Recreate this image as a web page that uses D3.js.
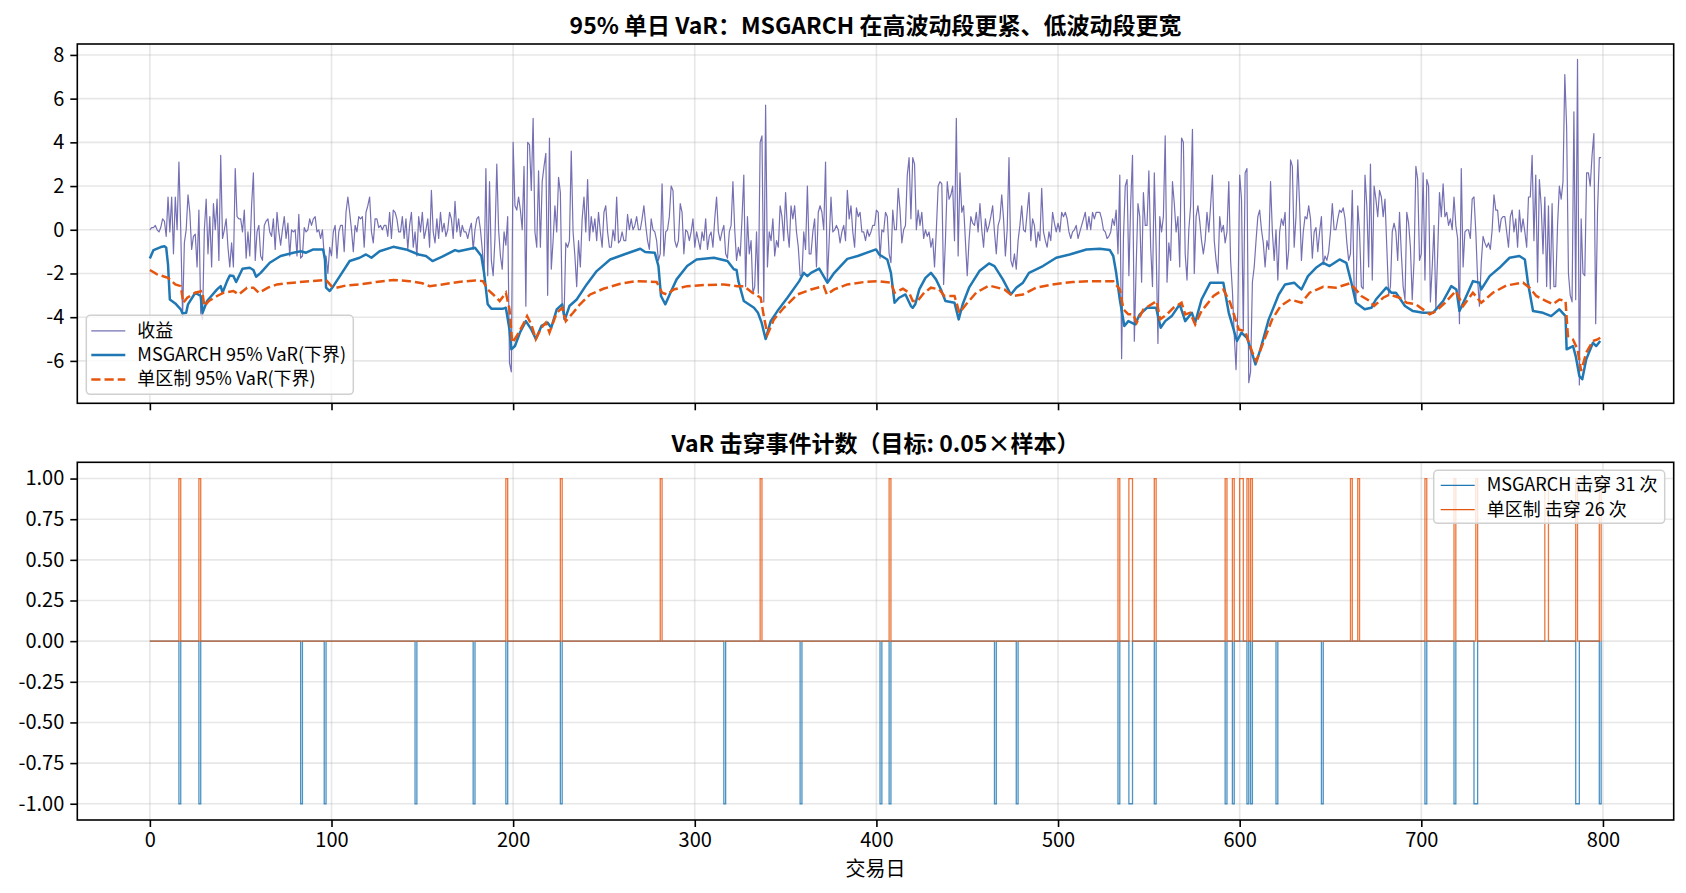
<!DOCTYPE html>
<html>
<head>
<meta charset="utf-8">
<script src="https://cdnjs.cloudflare.com/ajax/libs/d3/7.8.5/d3.min.js"></script>
<style>
body { margin: 0; background: #fff; }
svg text { font-family: "Noto Sans CJK SC", "Noto Sans", sans-serif; fill: #000; }
</style>
</head>
<body>
<div id="chart"></div>
<script>
// daily returns, day 0..799
var returns = [
  0.0,0.1,0.1,0.2,0.0,-0.1,0.1,0.5,0.4,-0.3,
  1.5,-0.1,1.5,-1.1,1.5,0.0,3.1,0.0,-4.0,-0.6,
  0.0,1.6,0.8,-0.9,-0.3,-0.2,-1.7,0.9,-3.8,-4.1,
  0.0,1.4,-1.1,0.6,-1.7,1.2,0.0,1.4,-1.4,3.4,
  -0.4,0.0,0.5,-0.8,-1.7,-0.6,-1.7,2.8,0.6,0.5,
  0.5,-0.1,0.9,-1.3,-0.1,-1.2,1.1,2.6,-1.4,-0.1,
  0.2,-1.2,-1.4,0.2,0.4,0.5,-0.1,-0.3,0.5,-0.9,
  0.8,-0.1,-0.7,0.0,0.6,-0.4,0.3,-1.2,0.0,-0.1,
  0.0,-1.2,0.7,-1.3,-1.2,0.1,-0.1,0.0,0.5,0.2,
  0.5,0.6,-0.1,0.0,-0.4,0.0,-1.2,-1.2,-2.0,-0.8,
  -1.2,-0.1,0.2,-1.3,-0.1,0.2,0.2,-1.0,0.8,1.5,
  0.8,0.0,-1.0,0.2,-0.1,0.6,0.5,0.6,-0.8,0.8,
  1.1,1.5,-0.1,-0.6,0.5,0.5,0.1,0.2,0.0,0.2,
  0.2,-0.3,0.8,-0.4,0.9,0.8,0.5,-0.1,-0.1,0.6,
  -0.4,0.5,-0.9,0.2,0.8,-0.8,-0.1,-1.2,0.6,-0.1,
  0.8,-0.4,0.0,0.5,-0.8,1.8,-0.1,-0.6,0.5,-0.4,
  0.8,-0.1,0.3,-0.3,0.0,0.8,0.5,-0.4,1.3,-0.1,
  0.5,-0.3,0.2,-0.1,-0.1,-0.4,0.0,0.3,-0.9,0.0,
  0.5,0.6,0.0,-0.9,-2.1,2.8,-2.1,2.2,-1.4,-2.1,
  -0.4,3.0,0.0,-1.2,-1.8,-0.1,-0.7,0.6,-6.1,-6.5,
  4.0,1.1,0.9,1.5,0.9,0.0,2.9,-3.5,4.0,3.9,
  1.8,5.1,-0.1,-0.8,2.7,-0.8,2.2,2.9,3.5,-3.0,
  4.2,-1.8,-0.5,1.1,-0.1,2.4,1.7,-3.5,-4.1,-0.6,
  -0.8,-0.5,3.6,-0.1,-1.2,-2.6,-0.5,-1.7,0.5,1.5,
  -0.1,2.3,-0.5,0.6,-0.1,0.5,-0.5,0.8,-0.1,-0.8,
  0.8,1.1,-0.1,-0.8,-0.8,0.0,-0.5,1.5,-0.6,-0.5,
  -0.1,-0.5,-0.5,0.7,0.0,0.5,0.0,0.2,0.6,0.0,
  0.0,0.5,1.1,0.2,-0.5,-0.9,0.5,0.0,-0.1,-0.5,
  -1.4,-1.1,2.1,-1.2,-0.1,0.0,0.6,2.0,1.8,-0.5,
  -0.8,-0.5,1.2,0.8,-1.1,0.0,-0.1,-0.5,-0.1,0.5,
  -0.8,-0.1,-0.5,-0.9,-0.1,-0.5,0.5,-0.9,-0.3,-0.1,
  -0.8,0.5,1.5,-0.1,-0.5,-0.1,0.2,-1.1,-1.3,-0.1,
  0.2,2.2,0.0,-1.4,-0.8,-1.2,0.5,2.5,-2.6,0.6,
  -1.1,-0.5,-2.9,-2.6,-0.1,-2.9,4.0,4.3,-3.3,5.7,
  -1.7,-0.1,-0.5,0.5,-1.2,-0.5,-0.8,1.1,0.6,-0.5,
  1.7,0.0,-0.8,1.1,0.5,1.1,-0.1,-0.8,-2.1,-2.1,
  -0.1,-0.9,2.0,-1.1,-1.1,-0.1,0.5,-1.7,0.8,1.1,
  0.8,0.0,3.1,-2.4,-0.5,1.5,-0.1,0.0,0.2,0.0,
  -0.6,-0.1,0.2,-0.5,1.8,0.5,1.1,-0.1,-0.8,1.0,
  0.6,0.8,-0.1,-0.1,-0.5,0.0,-0.3,-0.1,0.2,0.2,
  0.9,0.8,-1.3,0.0,-0.1,0.8,0.6,-1.1,-1.5,0.9,
  0.0,0.0,1.9,0.9,-0.6,0.0,0.2,2.5,3.3,0.5,
  3.3,3.0,0.0,0.9,0.2,0.8,-0.4,0.0,-0.3,-0.1,
  -0.8,-0.4,-1.7,0.0,2.0,2.2,2.1,-2.5,-0.5,2.2,
  1.4,1.6,2.0,-0.5,5.1,-1.2,2.6,0.8,1.1,-0.5,
  -2.1,-0.5,0.6,0.3,0.2,0.8,-0.1,1.2,0.0,-0.8,
  0.5,-0.1,0.2,0.6,1.1,-0.1,-1.1,0.2,0.5,1.6,
  0.5,-1.2,0.0,3.3,-1.4,-1.7,-1.1,-1.8,-0.5,0.2,
  1.1,0.0,-0.1,0.8,1.7,-0.5,0.5,0.2,-0.8,-0.1,
  -0.5,1.9,-0.1,-0.5,-0.8,-0.1,-0.5,0.8,0.3,-0.1,
  0.3,-0.1,0.8,0.6,0.8,0.5,-0.1,-0.4,-0.1,0.0,
  0.2,-0.4,-0.1,0.2,0.5,0.8,0.0,0.6,0.0,0.8,
  0.5,0.8,0.8,0.8,0.5,0.0,-0.1,-0.4,-0.3,-0.1,
  0.5,0.2,0.9,-1.1,2.5,-5.9,-0.4,2.0,2.3,-2.1,
  1.2,3.4,-5.1,-1.7,1.2,0.6,-2.4,1.7,0.2,0.2,
  2.7,-0.8,-2.6,2.6,-0.8,-5.2,0.6,-0.1,0.6,4.3,
  -2.4,-0.6,-1.4,2.2,1.2,-0.1,0.6,-1.7,4.2,4.0,
  -1.1,-2.3,0.0,1.1,4.6,-2.0,0.6,1.1,0.4,-0.5,
  -1.1,-0.5,0.8,-0.1,1.1,2.5,-0.5,-1.4,-2.0,0.6,
  -0.1,0.2,-0.6,-0.1,2.2,-1.4,-2.8,-4.8,-6.4,-3.6,
  2.5,1.4,-4.6,2.6,2.8,-7.0,-6.5,-2.4,-1.7,-0.5,
  0.6,0.9,0.0,-0.6,-1.7,-0.5,-0.9,2.2,-0.1,-1.4,
  0.0,-2.3,-0.1,0.5,0.2,0.8,-1.8,-0.9,3.2,2.9,
  -0.8,0.6,3.2,1.1,-1.4,-0.1,0.6,0.5,1.1,0.5,
  -1.3,-0.1,0.1,-1.0,-0.1,0.6,-1.6,-1.2,-1.4,-1.0,
  -0.1,1.2,0.0,0.0,0.5,0.9,0.8,1.0,0.5,-0.6,
  -1.4,-1.1,1.8,-2.6,-3.3,1.1,-0.1,-2.6,-2.7,2.5,
  1.1,-1.7,3.0,-2.3,2.0,1.4,0.6,1.8,1.5,0.6,
  1.4,-0.8,-3.0,-2.6,-0.1,0.3,-0.1,-1.4,0.8,-1.1,
  -2.6,-3.2,0.8,0.3,-0.8,-3.2,-1.4,2.9,2.3,-1.4,
  -1.1,2.6,-2.3,2.3,2.0,-3.3,-1.7,0.2,-3.6,-1.1,
  1.7,0.6,2.1,0.6,0.8,0.2,0.5,0.0,1.5,0.2,
  -0.4,-4.3,2.8,-1.7,-0.1,0.0,0.0,-0.4,1.4,1.5,
  -0.1,-2.3,-3.5,-1.5,-0.3,-0.6,-0.8,-0.6,-0.9,0.0,
  1.6,0.9,0.9,-0.1,0.5,0.6,0.6,-0.1,-0.8,0.6,
  0.9,-0.1,0.5,-0.8,0.9,-0.1,0.5,-0.1,-0.8,1.5,
  1.5,3.4,-0.5,2.5,-2.4,2.3,1.1,-1.1,1.5,-2.6,
  1.1,-2.7,1.2,-2.6,-2.6,0.2,2.0,1.4,2.2,7.1,
  4.7,-2.0,-3.0,-3.3,5.4,-3.2,7.8,-7.1,0.5,-2.0,
  -2.1,2.6,2.6,2.0,3.4,4.4,-4.3,0.8,3.3,3.3
];

// MSGARCH 95% VaR, read at these days
var msDays = [0,2,6,8,9,10,11,14,17,18,20,21,25,28,29,31.5,37,39,40,42.5,44,46,47.5,51,55,57,58.5,61,66,72,79,83,86,90,95.4,96.4,97,99,101,104.6,110,115.5,119,122,126.5,134,141,148,152,155.6,161,168,170,179,182.5,184,186,188,194.5,196,198,199,201,203.7,207,210,212.5,215.6,219,221,224,227,228.5,231,235,240.5,246,253.4,261,270,272.7,278,280,281.4,283.8,286.6,290,295.8,301,310.5,318,321.5,323,324,327,332.6,334.8,336.8,339,341.8,345.5,351,357.5,360,362,364,368.5,373,376.8,384,389.7,399.8,401.5,406,408,410,412.5,416,419,420,421.4,423.6,427,430,432.8,435.5,438,443,445.3,447.5,451,456.7,462,465,469.6,474,477,480.7,484,491.7,499,506.4,515.6,523,528.5,530.4,532,534,536.5,538.7,542.4,545,549,554,556.5,559,562.6,567,570,573.7,575.5,579,583.8,591,594,598.5,601,604,607,608.7,611.4,616,621.5,625,630,632,634,637.6,642,646,649.5,655,658.7,661.5,664,668.8,672.5,675,680.7,683.5,686,691,695.4,701,706.4,712,716.5,719.3,721,724.8,728.4,732,733,737.6,743,748.6,754,757,758.7,761.5,767,771.5,776,779.4,780,783.5,785,787,788.6,790.8,794.5,796.3,798.5];
var msVaR = [-1.31,-0.93,-0.79,-0.75,-0.82,-1.6,-3.19,-3.37,-3.64,-3.83,-3.8,-3.41,-2.88,-3.03,-3.8,-3.26,-2.73,-2.58,-2.88,-2.35,-2.09,-2.12,-2.39,-1.78,-1.74,-1.84,-2.15,-1.97,-1.51,-1.2,-1.05,-0.98,-1.05,-0.9,-0.9,-1.36,-2.65,-2.8,-2.58,-2.12,-1.43,-1.28,-1.13,-1.28,-0.98,-0.78,-0.9,-1.13,-1.2,-1.43,-1.23,-0.93,-0.98,-0.82,-1.2,-1.97,-3.41,-3.61,-3.61,-3.57,-4.56,-5.47,-5.32,-4.71,-4.18,-4.56,-5.0,-4.4,-4.25,-4.48,-3.64,-3.41,-4.1,-3.49,-3.19,-2.5,-1.89,-1.36,-1.13,-0.87,-1.02,-1.05,-1.66,-3.03,-3.41,-2.88,-2.27,-1.66,-1.36,-1.28,-1.43,-1.81,-1.84,-2.35,-3.26,-3.57,-3.8,-4.25,-5.0,-4.18,-3.72,-3.11,-2.35,-1.97,-2.12,-1.97,-1.78,-2.42,-1.97,-1.33,-1.2,-0.9,-1.13,-1.36,-1.97,-3.34,-3.11,-2.96,-3.49,-3.57,-3.41,-2.73,-2.2,-1.97,-2.27,-2.73,-3.26,-3.34,-4.1,-3.41,-2.65,-1.89,-1.54,-1.66,-2.27,-2.96,-2.65,-2.42,-1.97,-1.66,-1.28,-1.13,-0.9,-0.87,-0.93,-1.2,-1.97,-3.19,-4.4,-4.18,-4.33,-3.87,-3.57,-3.57,-4.48,-4.18,-3.95,-3.41,-4.18,-3.8,-4.25,-3.19,-2.42,-2.42,-3.8,-5.09,-4.71,-4.94,-5.7,-6.16,-5.47,-4.1,-2.96,-2.5,-2.42,-2.58,-2.73,-2.12,-1.74,-1.51,-1.66,-1.36,-1.51,-2.42,-3.34,-3.64,-3.57,-3.19,-2.65,-2.88,-2.88,-3.49,-3.72,-3.8,-3.8,-3.26,-2.58,-2.73,-3.72,-3.03,-2.35,-2.42,-2.73,-2.12,-1.74,-1.28,-1.2,-1.36,-2.42,-3.72,-3.8,-3.95,-3.64,-3.95,-5.47,-5.32,-5.78,-6.69,-6.84,-5.93,-5.17,-5.32,-5.09];

// single-regime 95% VaR, read at these days
var srDays = [0,4,10,14,17,18.4,20.6,25,28.8,30,32.5,37,40.7,46,49,53.5,57,60,65,70,79,88,97,100,102.7,108,115.5,124.6,134,143,150,154,161,170,179,183.4,186,189,192.6,196,198,199.5,202,205.5,207.7,210,212.5,215.6,218,220,224,227,229,233,236.8,242.4,249.7,259,268,279,282,284.7,288.4,295.8,305,316,323.4,327,331.7,336.3,338,340,343.6,349,356.5,364,371,372.7,376.8,384,393.4,400.7,408,410,414.6,418,420,422.7,426.3,430,434.6,437.4,443,445.7,449.4,454.9,462,470.5,475,480.7,488,497,508,519,530.4,534,536,538.7,541.4,543.3,547,554.3,556.2,560,563.5,568,570,572.7,575.5,579,585.6,591,594.8,599.5,603,607,609.2,613.3,617.9,622.5,628,634,638.5,646,653,660.6,663,667,671.6,674,679,682.6,688,692,697,704.6,708,713,719,723,728.4,733,739.4,746.8,756,759.6,763.3,768.8,772.5,776,779.4,780.7,783.5,786,788,790.8,794.5,797,798.5];
var srVaR = [-1.84,-2.04,-2.2,-2.5,-2.58,-3.34,-3.11,-2.88,-2.8,-3.49,-3.26,-3.03,-2.88,-2.8,-2.96,-2.65,-2.65,-2.88,-2.65,-2.5,-2.42,-2.35,-2.3,-2.58,-2.65,-2.55,-2.5,-2.39,-2.3,-2.35,-2.45,-2.58,-2.5,-2.39,-2.32,-2.35,-2.73,-2.96,-3.26,-2.88,-3.64,-5.17,-4.86,-4.33,-3.95,-4.33,-5.0,-4.48,-4.25,-4.71,-3.8,-3.57,-4.18,-3.8,-3.41,-2.96,-2.7,-2.47,-2.35,-2.39,-2.88,-2.96,-2.73,-2.58,-2.53,-2.5,-2.58,-2.58,-2.88,-3.11,-3.95,-4.79,-4.1,-3.57,-2.96,-2.73,-2.58,-2.96,-2.73,-2.5,-2.39,-2.35,-2.42,-2.88,-2.7,-2.88,-3.26,-3.26,-2.88,-2.65,-2.73,-3.03,-3.03,-3.8,-3.41,-2.88,-2.55,-2.73,-3.03,-2.96,-2.65,-2.5,-2.39,-2.35,-2.35,-2.73,-3.64,-3.87,-3.87,-4.25,-3.64,-3.26,-4.1,-3.87,-3.57,-3.34,-3.87,-3.8,-4.33,-3.72,-3.03,-2.73,-3.34,-4.56,-4.64,-5.62,-6.0,-5.09,-4.1,-3.49,-3.19,-3.34,-2.88,-2.61,-2.65,-2.45,-2.65,-3.03,-3.26,-3.49,-3.11,-2.96,-3.11,-3.34,-3.41,-3.87,-3.72,-3.34,-2.8,-3.49,-2.88,-3.34,-2.88,-2.55,-2.42,-2.65,-3.03,-3.26,-3.41,-3.19,-3.26,-4.86,-5.02,-5.47,-6.46,-5.62,-5.09,-5.02,-4.94];

// days on which each model's VaR was breached
var msHits = [16,27,83,96,146,178,196,226,316,358,402,407,465,477,533,539,540,553,592,596,604,606,620,645,702,718,729,730,785,786,798];
var srHits = [16,27,196,226,281,336,407,533,539,540,553,592,596,600,601,604,606,661,665,702,718,730,768,769,785,798];

var xTicks = [0,100,200,300,400,500,600,700,800];
var yTicksTop = [-6,-4,-2,0,2,4,6,8];
var yTicksBottom = [-1,-0.75,-0.5,-0.25,0,0.25,0.5,0.75,1];

var W = 1686, H = 893;
var pl = 77.3, pw = 1673.7 - 77.3;
var p1 = {top: 44, h: 359.3}, p2 = {top: 462.3, h: 357.7};

var cPurple = "#7570b3", cBlue = "#1f78b4", cOrange = "#e6550d";

var svg = d3.select("#chart")
  .append("svg")
  .attr("width", W)
  .attr("height", H)
  .style("background", "#fff");

var x = d3.scaleLinear().domain([-39.95, 838.95]).range([0, pw]);
var y1 = d3.scaleLinear().domain([-7.94, 8.5]).range([p1.h, 0]);
var y2 = d3.scaleLinear().domain([-1.1, 1.1]).range([p2.h, 0]);

function hy(f) { return function(d) { return f(d).replace("\u2212", "-"); }; }

function panel(p, y, yTicks, yFmt, showX, id) {
  var g = svg.append("g").attr("transform", "translate(" + pl + "," + p.top + ")");

  g.append("clipPath").attr("id", id).append("rect").attr("width", pw).attr("height", p.h);

  var grid = g.append("g").attr("stroke", "#b0b0b0").attr("stroke-opacity", 0.3).attr("stroke-width", 1.6);
  grid.selectAll(".gx").data(xTicks).enter().append("line")
    .attr("x1", function(d) { return x(d); }).attr("x2", function(d) { return x(d); })
    .attr("y1", 0).attr("y2", p.h);
  grid.selectAll(".gy").data(yTicks).enter().append("line")
    .attr("y1", function(d) { return y(d); }).attr("y2", function(d) { return y(d); })
    .attr("x1", 0).attr("x2", pw);

  var plot = g.append("g").attr("clip-path", "url(#" + id + ")");

  var ax = g.append("g").attr("class", "axis").attr("transform", "translate(0," + p.h + ")")
    .call(d3.axisBottom(x).tickValues(xTicks).tickSize(7).tickPadding(6)
      .tickFormat(showX ? d3.format("d") : ""));
  var ay = g.append("g").attr("class", "axis")
    .call(d3.axisLeft(y).tickValues(yTicks).tickSize(7).tickPadding(6).tickFormat(hy(yFmt)));
  [ax, ay].forEach(function(a) {
    a.select(".domain").remove();
    a.selectAll(".tick line").attr("stroke", "#000").attr("stroke-width", 1.6);
    a.selectAll(".tick text").style("font-size", "20px");
  });

  g.append("rect").attr("width", pw).attr("height", p.h)
    .attr("fill", "none").attr("stroke", "#000").attr("stroke-width", 1.6);

  return {g: g, plot: plot};
}

// top panel
var a1 = panel(p1, y1, yTicksTop, d3.format("d"), false, "clip1");

var retLine = d3.line().x(function(d, i) { return x(i); }).y(function(d) { return y1(d); });
a1.plot.append("path").datum(returns)
  .attr("d", retLine).attr("fill", "none")
  .attr("stroke", cPurple).attr("stroke-width", 1.2).attr("stroke-linejoin", "round");

var varLine = d3.line().x(function(d) { return x(d[0]); }).y(function(d) { return y1(d[1]); });
a1.plot.append("path").datum(d3.zip(msDays, msVaR))
  .attr("d", varLine).attr("fill", "none")
  .attr("stroke", cBlue).attr("stroke-width", 2.5).attr("stroke-linejoin", "round");
a1.plot.append("path").datum(d3.zip(srDays, srVaR))
  .attr("d", varLine).attr("fill", "none")
  .attr("stroke", cOrange).attr("stroke-width", 2.5).attr("stroke-dasharray", "9.2,4");

svg.append("text")
  .attr("x", pl + pw / 2).attr("y", 34)
  .attr("text-anchor", "middle")
  .style("font-size", "23px").style("font-weight", "bold")
  .text("95% 单日 VaR：MSGARCH 在高波动段更紧、低波动段更宽");

// legend top
var lg1 = a1.g.append("g").attr("transform", "translate(9," + (p1.h - 88) + ")");
lg1.append("rect").attr("width", 267).attr("height", 79).attr("rx", 4)
  .attr("fill", "#fff").attr("fill-opacity", 0.8).attr("stroke", "#d0d0d0").attr("stroke-width", 1.5);
var lgItems1 = [
  {label: "收益", color: cPurple, w: 1.2, dash: null},
  {label: "MSGARCH 95% VaR(下界)", color: cBlue, w: 2.5, dash: null},
  {label: "单区制 95% VaR(下界)", color: cOrange, w: 2.5, dash: "9.2,4"}
];
lgItems1.forEach(function(it, i) {
  var yy = 15.5 + i * 24.3;
  lg1.append("line").attr("x1", 5).attr("x2", 39).attr("y1", yy).attr("y2", yy)
    .attr("stroke", it.color).attr("stroke-width", it.w).attr("stroke-dasharray", it.dash);
  lg1.append("text").attr("x", 51).attr("y", yy + 6).style("font-size", "18px").text(it.label);
});

// bottom panel
var a2 = panel(p2, y2, yTicksBottom, d3.format(".2f"), true, "clip2");

var msSeries = returns.map(function(d, i) { return msHits.indexOf(i) >= 0 ? -1 : 0; });
var srSeries = returns.map(function(d, i) { return srHits.indexOf(i) >= 0 ? 1 : 0; });
var stepLine = d3.line().curve(d3.curveStepAfter)
  .x(function(d, i) { return x(i); }).y(function(d) { return y2(d); });

a2.plot.append("path").datum(msSeries)
  .attr("d", stepLine).attr("fill", "none")
  .attr("stroke", cBlue).attr("stroke-opacity", 0.8).attr("stroke-width", 1.3);
a2.plot.append("path").datum(srSeries)
  .attr("d", stepLine).attr("fill", "none")
  .attr("stroke", cOrange).attr("stroke-opacity", 0.8).attr("stroke-width", 1.3);

svg.append("text")
  .attr("x", pl + pw / 2).attr("y", 452)
  .attr("text-anchor", "middle")
  .style("font-size", "23px").style("font-weight", "bold")
  .text("VaR 击穿事件计数（目标: 0.05×样本）");

svg.append("text")
  .attr("x", pl + pw / 2).attr("y", 876)
  .attr("text-anchor", "middle")
  .style("font-size", "20px")
  .text("交易日");

// legend bottom
var lg2 = a2.g.append("g").attr("transform", "translate(" + (pw - 240) + ",8)");
lg2.append("rect").attr("width", 231).attr("height", 53).attr("rx", 4)
  .attr("fill", "#fff").attr("fill-opacity", 0.8).attr("stroke", "#d0d0d0").attr("stroke-width", 1.5);
var lgItems2 = [
  {label: "MSGARCH 击穿 " + msHits.length + " 次", color: cBlue},
  {label: "单区制 击穿 " + srHits.length + " 次", color: cOrange}
];
lgItems2.forEach(function(it, i) {
  var yy = 15 + i * 24.3;
  lg2.append("line").attr("x1", 7).attr("x2", 41).attr("y1", yy).attr("y2", yy)
    .attr("stroke", it.color).attr("stroke-width", 1.3);
  lg2.append("text").attr("x", 53).attr("y", yy + 6).style("font-size", "18px").text(it.label);
});
</script>
</body>
</html>
